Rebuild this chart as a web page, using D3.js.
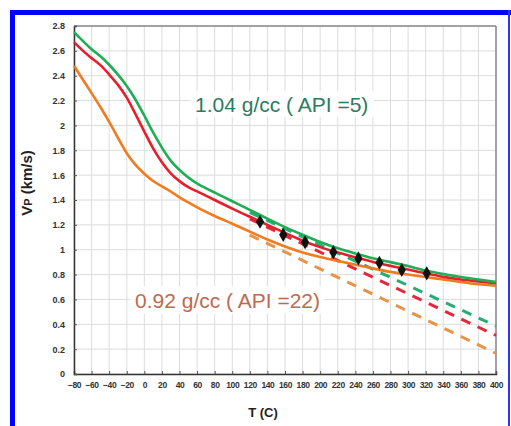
<!DOCTYPE html>
<html><head><meta charset="utf-8">
<script src="https://cdn.jsdelivr.net/npm/d3@7"></script>
<style>html,body{margin:0;padding:0;background:#fff;}svg{display:block;}</style>
</head><body>
<svg id="c" width="511" height="426"></svg>
<script>
// ---- data ----
const temps = [-80,-70,-60,-50,-40,-30,-20,-10,0,10,20,30,40,50,60,80,100,120,140,160,180,200,220,240,260,280,300,320,340,360,380,400];
const vpGreen = [2.75,2.68,2.61,2.56,2.49,2.41,2.32,2.21,2.08,1.94,1.82,1.71,1.64,1.58,1.53,1.46,1.39,1.32,1.25,1.18,1.12,1.06,1.01,0.97,0.93,0.90,0.87,0.83,0.805,0.78,0.76,0.74];
const vpRed   = [2.67,2.60,2.54,2.49,2.41,2.33,2.23,2.09,1.95,1.81,1.70,1.61,1.55,1.50,1.47,1.40,1.33,1.265,1.20,1.135,1.07,1.02,0.975,0.94,0.90,0.87,0.84,0.81,0.78,0.76,0.745,0.73];
const vpOrange= [2.48,2.37,2.26,2.15,2.03,1.90,1.77,1.68,1.61,1.55,1.51,1.47,1.42,1.38,1.34,1.27,1.21,1.145,1.08,1.025,0.975,0.94,0.91,0.88,0.85,0.82,0.80,0.78,0.76,0.74,0.72,0.71];
const dashTemps = [120, 400];
const dashGreen = [1.30, 0.386];
const dashRed = [1.248, 0.31];
const dashOrange = [1.118, 0.166];
const measT = [131.6,158,182.8,215,243.5,267.4,292.8,321.2];
const measVp = [1.225,1.12,1.06,0.98,0.93,0.895,0.837,0.81];
const xTicks = d3.range(-80, 401, 20);
const yTicks = d3.range(0, 2.81, 0.2).map(v => +v.toFixed(1));
const labelHeavy = "1.04 g/cc ( API =5)";
const labelLight = "0.92 g/cc ( API =22)";

// ---- drawing ----
const svg = d3.select("#c");
const L = 74, R = 496, T = 26, B = 374;
const x = d3.scaleLinear().domain([-80, 400]).range([L, R]);
const y = d3.scaleLinear().domain([0, 2.8]).range([B, T]);

// blue frame
svg.append("rect").attr("x",10).attr("y",10).attr("width",501).attr("height",5).attr("fill","#0000ff");
svg.append("rect").attr("x",10).attr("y",10).attr("width",5).attr("height",416).attr("fill","#0000ff");
svg.append("rect").attr("x",508).attr("y",10).attr("width",2).attr("height",416).attr("fill","#3030ff");

// grid
const g = svg.append("g");
g.selectAll(".vx").data(xTicks).join("line")
  .attr("x1", d => x(d)).attr("x2", d => x(d)).attr("y1", T).attr("y2", B)
  .attr("stroke", "#dcdcdc").attr("stroke-width", 1);
g.selectAll(".hy").data(yTicks).join("line")
  .attr("x1", L).attr("x2", R).attr("y1", d => y(d)).attr("y2", d => y(d))
  .attr("stroke", "#dcdcdc").attr("stroke-width", 1);

// frame top/right
svg.append("line").attr("x1",L).attr("x2",R).attr("y1",T).attr("y2",T).attr("stroke","#888").attr("stroke-width",1.5);
svg.append("line").attr("x1",R).attr("x2",R).attr("y1",T).attr("y2",B).attr("stroke","#888").attr("stroke-width",1.5);

// text backgrounds
svg.append("rect").attr("x",190).attr("y",91).attr("width",184).attr("height",26).attr("fill","#fff").attr("opacity",0.85);
svg.append("rect").attr("x",130).attr("y",286).attr("width",194).attr("height",28).attr("fill","#fff").attr("opacity",0.85);

// axes
const xAxis = d3.axisBottom(x).tickValues(xTicks).tickSize(-3).tickPadding(8).tickFormat(d3.format("d"));
const yAxis = d3.axisLeft(y).tickValues(yTicks).tickSize(-3).tickPadding(9).tickFormat(d => d === 0 ? "0" : d3.format("")(d));
const gx = svg.append("g").attr("transform", `translate(0,${B})`).call(xAxis);
const gy = svg.append("g").attr("transform", `translate(${L},0)`).call(yAxis);
[gx, gy].forEach(a => {
  a.select(".domain").attr("stroke", "#333").attr("stroke-width", 1.5);
  a.selectAll(".tick line").attr("stroke", "#555");
  a.selectAll("text").attr("fill", "#333").attr("font-family", "Liberation Sans, Arial, sans-serif")
    .attr("font-weight", "bold").attr("font-size", 8.5);
});
gy.selectAll("text").attr("font-size", 9);
gx.selectAll("text").attr("letter-spacing", -0.4);

// lines
const lineFn = d3.line().x(d => x(d[0])).y(d => y(d[1])).curve(d3.curveBasis);
const dashFn = d3.line().x(d => x(d[0])).y(d => y(d[1]));
const cols = {green: "#1fae55", red: "#e3202e", orange: "#f07c1f"};
const dcols = {green: "#25ad76", red: "#e2293c", orange: "#e89448"};

[[dashGreen, dcols.green], [dashRed, dcols.red], [dashOrange, dcols.orange]].forEach(([vals, c]) => {
  svg.append("path").datum(dashTemps.map((t, i) => [t, vals[i]]))
    .attr("d", dashFn).attr("fill", "none").attr("stroke", c).attr("stroke-width", 3)
    .attr("stroke-dasharray", "10,8");
});
[[vpOrange, cols.orange], [vpRed, cols.red], [vpGreen, cols.green]].forEach(([vals, c]) => {
  svg.append("path").datum(temps.map((t, i) => [t, vals[i]]))
    .attr("d", lineFn).attr("fill", "none").attr("stroke", c).attr("stroke-width", 2.6)
    .attr("stroke-linejoin", "round");
});

// markers
svg.selectAll(".mk").data(measT.map((t, i) => [t, measVp[i]])).join("path")
  .attr("transform", d => `translate(${x(d[0])},${y(d[1])})`)
  .attr("d", d3.symbol().type(d3.symbolDiamond).size(58)).attr("fill", "#111");

// annotations
svg.append("text").attr("x", 195).attr("y", 112).text(labelHeavy)
  .attr("font-family", "Liberation Sans, Arial, sans-serif").attr("font-size", 21).attr("fill", "#2d7b5d");
svg.append("text").attr("x", 135).attr("y", 308).text(labelLight)
  .attr("font-family", "Liberation Sans, Arial, sans-serif").attr("font-size", 21).attr("fill", "#bd6a4f");

// axis titles
svg.append("text").attr("x", 263).attr("y", 417).attr("text-anchor", "middle").text("T (C)")
  .attr("font-family", "Liberation Sans, Arial, sans-serif").attr("font-weight", "bold").attr("font-size", 13).attr("fill", "#222");
const yt = svg.append("text").attr("transform", "translate(32,183) rotate(-90)").attr("text-anchor", "middle")
  .attr("font-family", "Liberation Sans, Arial, sans-serif").attr("font-weight", "bold").attr("font-size", 15).attr("fill", "#222");
yt.append("tspan").text("V");
yt.append("tspan").attr("font-size", 11).text("P");
yt.append("tspan").text(" (km/s)");
</script>
</body></html>
